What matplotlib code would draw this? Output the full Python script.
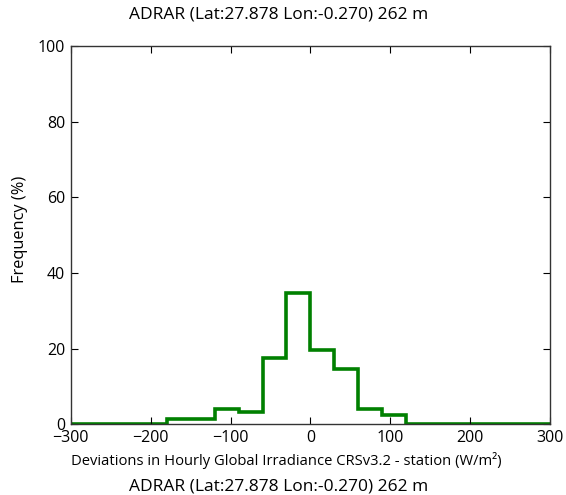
import matplotlib
matplotlib.use("Agg")
import matplotlib.pyplot as plt

station = "ADRAR (Lat:27.878 Lon:-0.270) 262 m"
bin_edges = [-300, -270, -240, -210, -180, -150, -120, -90, -60, -30, 0,
             30, 60, 90, 120, 150, 180, 210, 240, 270, 300]
freq_pct = [0.0, 0.0, 0.0, 0.0, 1.3, 1.3, 4.1, 3.3, 17.4, 34.7,
            19.6, 14.7, 4.1, 2.4, 0.0, 0.0, 0.0, 0.0, 0.0, 0.0]

plt.rcParams['font.family'] = ['Open Sans', 'DejaVu Sans']

fig = plt.figure(figsize=(5.66, 4.95), dpi=100)
ax = fig.add_axes([0.125, 0.143, 0.847, 0.764])

ax.stairs(freq_pct, bin_edges, color="green", linewidth=2.6)

ax.set_xlim(-300, 300)
ax.set_ylim(0, 100)
ax.set_xticks(range(-300, 301, 100))
ax.set_yticks(range(0, 101, 20))
ax.tick_params(direction="in", top=True, right=True, length=5, labelsize=11.5, pad=4)
for s in ax.spines.values():
    s.set_linewidth(1.0)
    s.set_color("#333333")

fig.text(0.493, 0.970, station, ha="center", va="center", fontsize=12.5)
ax.set_ylabel("Frequency (%)", fontsize=11.8)
ax.yaxis.set_label_coords(-0.089, 0.515)
ax.set_xlabel("Deviations in Hourly Global Irradiance CRSv3.2 - station (W/m²)", fontsize=10.6)
ax.xaxis.set_label_coords(0.449, -0.074)
fig.text(0.493, 0.018, station, ha="center", va="center", fontsize=12.5)

fig.savefig("out.png", dpi=100)
